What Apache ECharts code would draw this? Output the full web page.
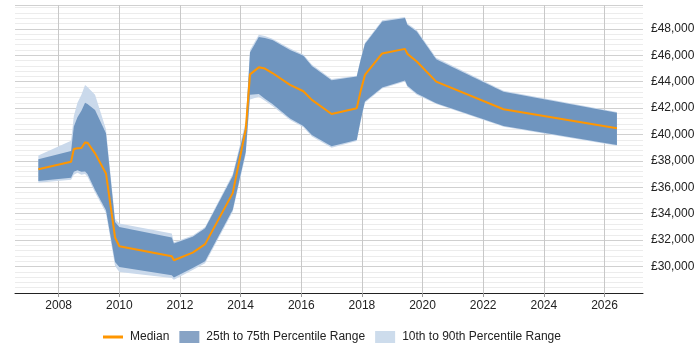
<!DOCTYPE html>
<html>
<head>
<meta charset="utf-8">
<script src="https://cdn.jsdelivr.net/npm/echarts@6/dist/echarts.min.js"></script>
<style>
  html, body { margin: 0; padding: 0; background: #fff; }
  #chart { width: 700px; height: 350px; }
</style>
</head>
<body>
<div id="chart"></div>
<script>
// dates as decimal years
const dates = [2007.33, 2008.41, 2008.5, 2008.62, 2008.75, 2008.87, 2008.95, 2009.2, 2009.56, 2009.86,
  2010.0, 2011.73, 2011.8, 2012.42, 2012.83, 2013.74, 2014.17, 2014.31, 2014.6, 2014.8,
  2015.05, 2015.63, 2016.07, 2016.35, 2017.0, 2017.83, 2017.96, 2018.1, 2018.67, 2019.42,
  2019.5, 2019.81, 2020.45, 2022.67, 2026.41];

const median = [37360, 37940, 38900, 38960, 38980, 39400, 39380, 38570, 37050, 32200,
  31540, 30780, 30480, 31060, 31700, 35560, 40400, 44550, 45080, 44990,
  44650, 43750, 43270, 42620, 41550, 41980, 43300, 44510, 46130, 46480,
  46100, 45520, 44000, 41910, 40470];

const p25 = [36470, 36720, 37180, 37300, 37180, 37200, 37000, 35800, 34270, 30350,
  29970, 29340, 29170, 29900, 30400, 34300, 38700, 43000, 43070, 42700,
  42300, 41200, 40650, 39960, 39100, 39580, 41100, 42500, 43560, 44080,
  43680, 43100, 42360, 40640, 39200];

const p75 = [38120, 38750, 40600, 41300, 41800, 42400, 42300, 41860, 40090, 33380,
  33000, 32200, 31750, 32250, 32900, 36850, 40700, 46200, 47380, 47300,
  47150, 46400, 45950, 45190, 44100, 44380, 45650, 46850, 48550, 48810,
  48300, 47800, 45700, 43240, 41650];

const p10 = [36350, 36580, 36950, 37100, 36950, 37000, 36800, 35600, 34050, 30050,
  29590, 29140, 29000, 29750, 30250, 34150, 38500, 42650, 42850, 42550,
  42150, 41100, 40550, 39850, 39000, 39500, 41000, 42400, 43480, 44000,
  43600, 43000, 42300, 40580, 39150];

const p90 = [38400, 39530, 41400, 42400, 43000, 43750, 43600, 43000, 40400, 33600,
  33260, 32500, 31850, 32350, 33000, 37000, 41000, 46400, 47550, 47450,
  47250, 46500, 46050, 45300, 44200, 44450, 45750, 46950, 48650, 48900,
  48400, 47900, 45800, 43300, 41700];

const xTicks = [2008, 2010, 2012, 2014, 2016, 2018, 2020, 2022, 2024, 2026];

const fmt = (v) => "£" + v.toLocaleString("en-GB");

// one polygon per band: upper edge left->right, lower edge right->left
const band = (name, lo, hi, color) => ({
  name,
  type: "custom",
  silent: true,
  data: dates.map((d, i) => [d, lo[i], hi[i]]),
  encode: { x: 0, y: [1, 2] },
  itemStyle: { color },
  renderItem: (params, api) => {
    if (params.dataIndex !== 0) return null;
    const pts = [];
    for (let i = 0; i < dates.length; i++) pts.push(api.coord([dates[i], hi[i]]));
    for (let i = dates.length - 1; i >= 0; i--) pts.push(api.coord([dates[i], lo[i]]));
    return {
      type: "polygon",
      shape: { points: pts },
      style: { fill: color },
    };
  },
});

const chart = echarts.init(document.getElementById("chart"));
chart.setOption({
  animation: false,
  textStyle: { fontFamily: "Liberation Sans, Arial, sans-serif" },
  grid: { left: 15, right: 57, top: 5, bottom: 57 },
  xAxis: {
    type: "value",
    min: 2006.56,
    max: 2027.27,
    axisLine: { lineStyle: { color: "#222", width: 1 } },
    axisTick: { show: true, length: 4, customValues: xTicks, lineStyle: { color: "#999" } },
    axisLabel: {
      customValues: xTicks,
      color: "#222",
      fontSize: 12,
      margin: 7,
      formatter: (v) => String(v),
    },
    splitLine: { show: true, lineStyle: { color: "#c8c8c8" } },
  },
  yAxis: {
    type: "value",
    position: "right",
    min: 28000,
    max: 49800,
    interval: 2000,
    axisLine: { show: false },
    axisTick: { show: false },
    axisLabel: {
      color: "#222",
      fontSize: 12,
      margin: 8,
      showMinLabel: false,
      showMaxLabel: false,
      formatter: fmt,
    },
    splitLine: { show: true, lineStyle: { color: "#d0d0d0" } },
    minorTick: { show: false, splitNumber: 5 },
    minorSplitLine: { show: true, lineStyle: { color: "#ececec" } },
  },
  legend: {
    left: 98,
    top: 326,
    itemWidth: 20,
    itemHeight: 12,
    itemGap: 10,
    textStyle: { color: "#222", fontSize: 12, padding: [0, 0, 0, 2] },
    data: [
      { name: "Median", icon: "path://M0,0H20V3H0Z", itemStyle: { color: "#ff9600" } },
      { name: "25th to 75th Percentile Range", icon: "rect", itemStyle: { color: "#87a3c5" } },
      { name: "10th to 90th Percentile Range", icon: "rect", itemStyle: { color: "#cddcec" } },
    ],
  },
  series: [
    band("10th to 90th Percentile Range", p10, p90, "#cad9eb"),
    band("25th to 75th Percentile Range", p25, p75, "#6f95bf"),
    {
      name: "Median",
      type: "line",
      symbol: "none",
      data: dates.map((d, i) => [d, median[i]]),
      lineStyle: { color: "#ff9600", width: 2 },
      itemStyle: { color: "#ff9600" },
      z: 5,
    },
  ],
});
</script>
</body>
</html>
